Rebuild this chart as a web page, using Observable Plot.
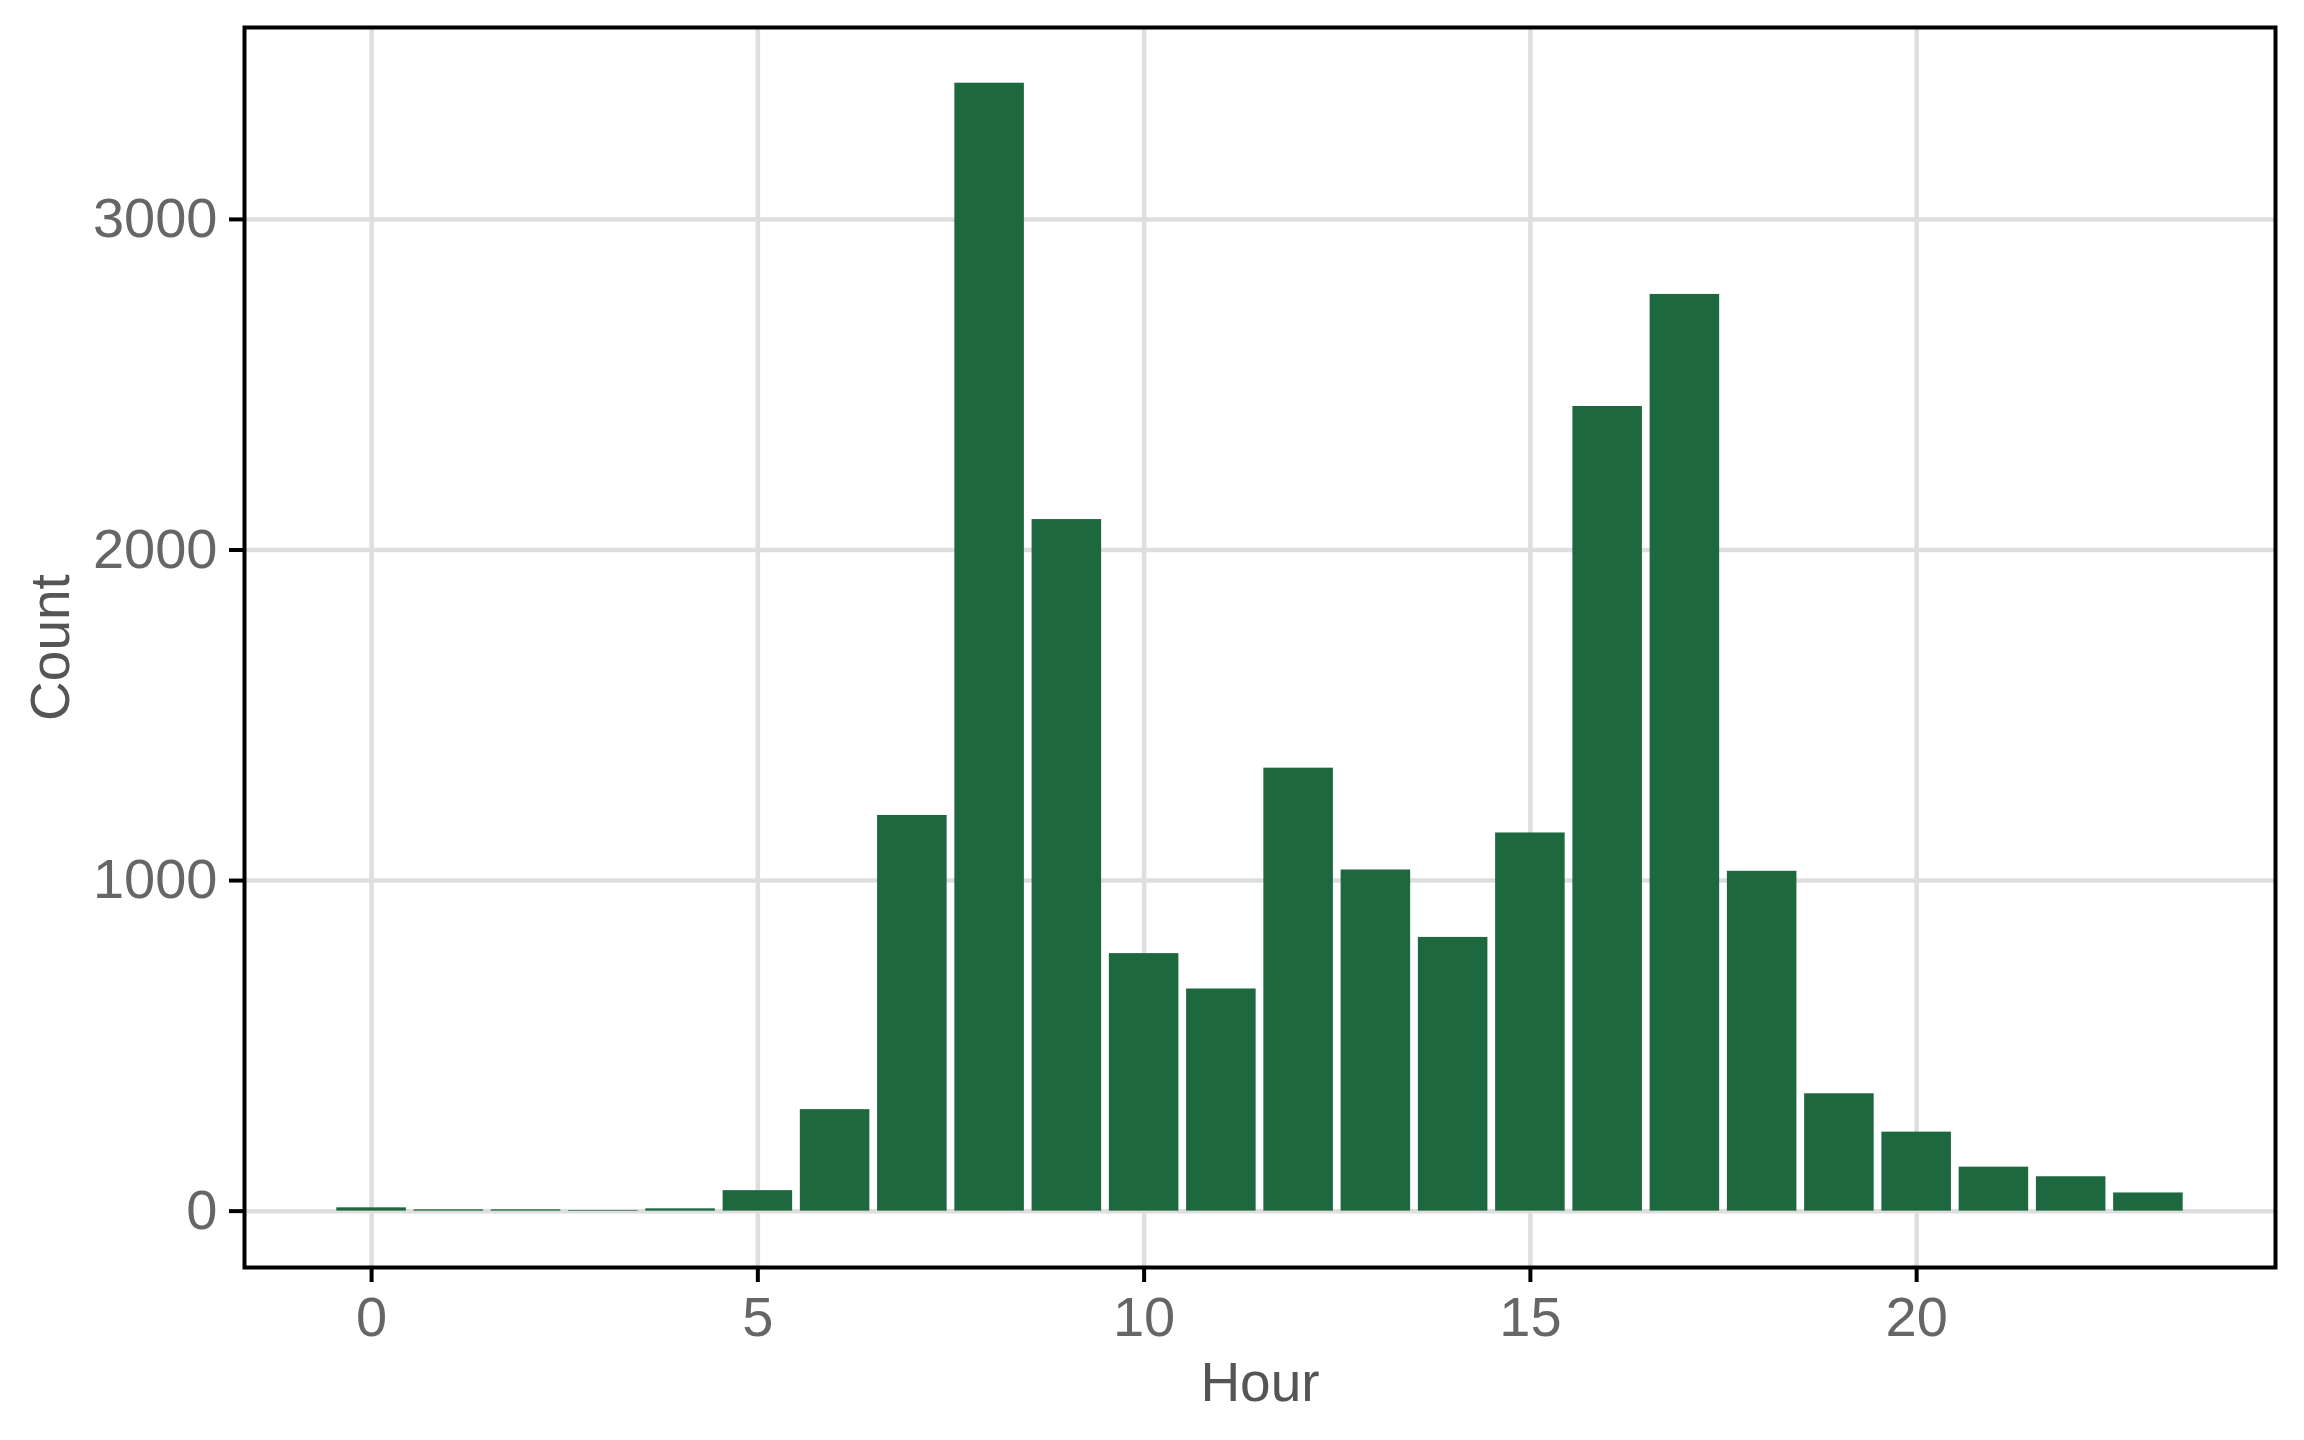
<!DOCTYPE html>
<html><head><meta charset="utf-8">
<script src="https://cdn.jsdelivr.net/npm/d3@7"></script>
<script src="https://cdn.jsdelivr.net/npm/@observablehq/plot@0.6"></script>
<style>body{margin:0;background:#fff}</style>
</head><body><div id="chart"></div>
<script>
const hours = [0,1,2,3,4,5,6,7,8,9,10,11,12,13,14,15,16,17,18,19,20,21,22,23];
const counts = [10,4,4,2,7,62,307,1197,3412,2092,779,672,1340,1032,828,1144,2434,2773,1028,355,239,133,104,55];
const xTicks = [0,5,10,15,20];
const yTicks = [0,1000,2000,3000];
const xLabel = "Hour";
const yLabel = "Count";

const data = hours.map((h, i) => ({hour: h, count: counts[i]}));
const barHalf = 0.45;

const chart = Plot.plot({
  width: 2304, height: 1440,
  marginLeft: 244, marginRight: 29, marginTop: 27, marginBottom: 173,
  style: {fontFamily: "'Liberation Sans', Arial, sans-serif", background: "#fff"},
  x: {domain: [-1.645, 24.645]},
  y: {domain: [-170.5, 3580.5]},
  marks: [
    Plot.gridX(xTicks, {stroke: "#DEDEDE", strokeOpacity: 1, strokeWidth: 4.5}),
    Plot.gridY(yTicks, {stroke: "#DEDEDE", strokeOpacity: 1, strokeWidth: 4.5}),
    Plot.rect(data, {x1: d => d.hour - barHalf, x2: d => d.hour + barHalf, y1: 0, y2: "count", fill: "#1D683F"}),
    Plot.frame({stroke: "black", strokeWidth: 4}),
    Plot.axisX(xTicks, {tickSize: 15, tickPadding: 14, strokeWidth: 4, stroke: "black", fill: "#666", fontSize: 56, label: null, tickFormat: d3.format("d")}),
    Plot.axisY(yTicks, {tickSize: 15, tickPadding: 12, strokeWidth: 4, stroke: "black", fill: "#666", fontSize: 56, label: null, tickFormat: d3.format("d")}),
    Plot.text([xLabel], {text: d => d, frameAnchor: "bottom", dy: 133, lineAnchor: "bottom", textAnchor: "middle", fontSize: 55, fill: "#555"}),
    Plot.text([yLabel], {text: d => d, frameAnchor: "left", dx: -176, rotate: -90, lineAnchor: "bottom", textAnchor: "middle", fontSize: 55, fill: "#555"})
  ]
});
document.getElementById("chart").appendChild(chart);
</script>
</body></html>
